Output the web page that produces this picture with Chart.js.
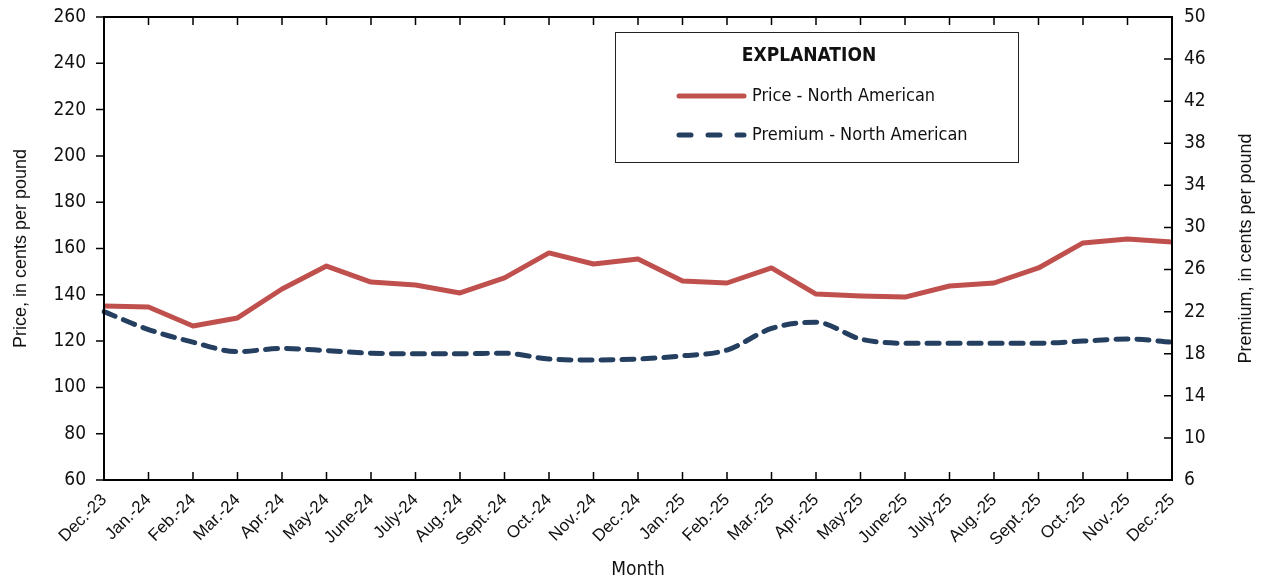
<!DOCTYPE html>
<html>
<head>
<meta charset="utf-8">
<script src="https://cdn.jsdelivr.net/npm/chart.js@4.4.1/dist/chart.umd.min.js"></script>
<style>
  html, body { margin: 0; padding: 0; background: #fff; }
  canvas { display: block; }
</style>
</head>
<body>
<canvas id="chart" width="1266" height="583"></canvas>
<script>
// month labels along the bottom
const months = ["Dec.-23", "Jan.-24", "Feb.-24", "Mar.-24", "Apr.-24", "May-24", "June-24", "July-24",
  "Aug.-24", "Sept.-24", "Oct.-24", "Nov.-24", "Dec.-24", "Jan.-25", "Feb.-25", "Mar.-25", "Apr.-25",
  "May-25", "June-25", "July-25", "Aug.-25", "Sept.-25", "Oct.-25", "Nov.-25", "Dec.-25"];

// cents per pound, left axis
const priceNA = [135.2, 134.7, 126.5, 130.0, 142.5, 152.4, 145.5, 144.2, 140.8, 147.3, 158.1, 153.3,
  155.5, 146.0, 145.1, 151.6, 140.3, 139.5, 139.0, 143.8, 145.1, 151.6, 162.4, 164.1, 162.8];

// cents per pound, right axis
const premiumNA = [22.0, 20.3, 19.1, 18.2, 18.5, 18.3, 18.05, 18.0, 18.0, 18.05, 17.5, 17.4,
  17.5, 17.8, 18.35, 20.4, 21.0, 19.4, 19.0, 19.0, 19.0, 19.0, 19.2, 19.4, 19.1];

const leftTicks = [60, 80, 100, 120, 140, 160, 180, 200, 220, 240, 260];
const rightTicks = [6, 10, 14, 18, 22, 26, 30, 34, 38, 42, 46, 50];

const RED = "#c0504d";
const NAVY = "#243f60";
const narrow = "'Liberation Sans Narrow', 'DejaVu Sans Condensed', 'Arial Narrow', sans-serif";
const regular = "'Liberation Sans', Arial, sans-serif";

// frame, inward tick marks, right title and the explanation box
const framePlugin = {
  id: "frame",
  afterDraw(chart) {
    const { ctx, chartArea: a, scales } = chart;
    ctx.save();
    ctx.strokeStyle = "#000";
    ctx.lineWidth = 2;
    ctx.strokeRect(a.left, a.top, a.right - a.left, a.bottom - a.top);

    ctx.lineWidth = 1.5;
    ctx.beginPath();
    for (let i = 0; i < months.length; i++) {
      const x = scales.x.getPixelForTick(i);
      ctx.moveTo(x, a.bottom);
      ctx.lineTo(x, a.bottom - 8);
      ctx.moveTo(x, a.top);
      ctx.lineTo(x, a.top + 8);
    }
    leftTicks.forEach(v => {
      const y = scales.y.getPixelForValue(v);
      ctx.moveTo(a.left - 8, y);
      ctx.lineTo(a.left, y);
    });
    rightTicks.forEach(v => {
      const y = scales.y1.getPixelForValue(v);
      ctx.moveTo(a.right - 8, y);
      ctx.lineTo(a.right, y);
    });
    ctx.stroke();

    // right axis title reads bottom to top like the left one
    ctx.fillStyle = "#111";
    ctx.font = "18px " + regular;
    ctx.textAlign = "center";
    ctx.textBaseline = "middle";
    ctx.translate(1246, (a.top + a.bottom) / 2);
    ctx.rotate(-Math.PI / 2);
    ctx.fillText("Premium, in cents per pound", 0, 0);
    ctx.restore();
    ctx.save();

    // explanation box
    const bx = 615, by = 32, bw = 403, bh = 130;
    ctx.fillStyle = "#fff";
    ctx.fillRect(bx, by, bw, bh);
    ctx.lineWidth = 1;
    ctx.strokeStyle = "#222";
    ctx.strokeRect(bx + 0.5, by + 0.5, bw, bh);

    ctx.fillStyle = "#111";
    ctx.textBaseline = "middle";
    ctx.textAlign = "center";
    ctx.font = "bold 19px " + narrow;
    ctx.fillText("EXPLANATION", 809, 56);

    ctx.textAlign = "left";
    ctx.font = "18px " + narrow;
    ctx.lineCap = "round";
    ctx.lineWidth = 5;
    ctx.strokeStyle = RED;
    ctx.beginPath();
    ctx.moveTo(679, 96);
    ctx.lineTo(744, 96);
    ctx.stroke();
    ctx.fillText("Price - North American", 752, 96);

    ctx.strokeStyle = NAVY;
    ctx.setLineDash([12, 17]);
    ctx.beginPath();
    ctx.moveTo(679, 135);
    ctx.lineTo(744, 135);
    ctx.stroke();
    ctx.setLineDash([]);
    ctx.fillText("Premium - North American", 752, 135);
    ctx.restore();
  }
};

const ctx = document.getElementById("chart").getContext("2d");
new Chart(ctx, {
  type: "line",
  data: {
    labels: months,
    datasets: [
      {
        label: "Price - North American",
        data: priceNA,
        yAxisID: "y",
        borderColor: RED,
        borderWidth: 5,
        pointRadius: 0,
        tension: 0,
        borderJoinStyle: "round"
      },
      {
        label: "Premium - North American",
        data: premiumNA,
        yAxisID: "y1",
        borderColor: NAVY,
        borderWidth: 5,
        borderDash: [12, 9],
        borderCapStyle: "round",
        pointRadius: 0,
        cubicInterpolationMode: "monotone"
      }
    ]
  },
  options: {
    responsive: false,
    animation: false,
    layout: { padding: { top: 17, right: 0, left: 0, bottom: 0 } },
    plugins: {
      legend: { display: false },
      tooltip: { enabled: false }
    },
    scales: {
      x: {
        offset: false,
        grid: { display: false },
        border: { display: false },
        ticks: {
          autoSkip: false,
          maxRotation: 45,
          minRotation: 45,
          padding: 2,
          color: "#111",
          font: { family: regular, size: 17 }
        },
        title: {
          display: true,
          text: "Month",
          color: "#111",
          padding: { top: 0, bottom: 2 },
          font: { family: narrow, size: 19 }
        },
        afterFit: s => { s.height = 103; s.paddingLeft = 0; s.paddingRight = 0; }
      },
      y: {
        position: "left",
        min: 60,
        max: 260,
        grid: { display: false },
        border: { display: false },
        afterBuildTicks: s => { s.ticks = leftTicks.map(v => ({ value: v })); },
        ticks: {
          padding: 10,
          color: "#111",
          font: { family: narrow, size: 19 }
        },
        title: {
          display: true,
          text: "Price, in cents per pound",
          color: "#111",
          padding: { top: 10, bottom: 0 },
          font: { family: regular, size: 18 }
        },
        afterFit: s => { s.width = 104; s.paddingTop = 0; s.paddingBottom = 0; }
      },
      y1: {
        position: "right",
        min: 6,
        max: 50,
        grid: { display: false },
        border: { display: false },
        afterBuildTicks: s => { s.ticks = rightTicks.map(v => ({ value: v })); },
        ticks: {
          padding: 4,
          color: "#111",
          font: { family: narrow, size: 19 }
        },
        afterFit: s => { s.width = 94; s.paddingTop = 0; s.paddingBottom = 0; }
      }
    }
  },
  plugins: [framePlugin]
});
</script>
</body>
</html>
